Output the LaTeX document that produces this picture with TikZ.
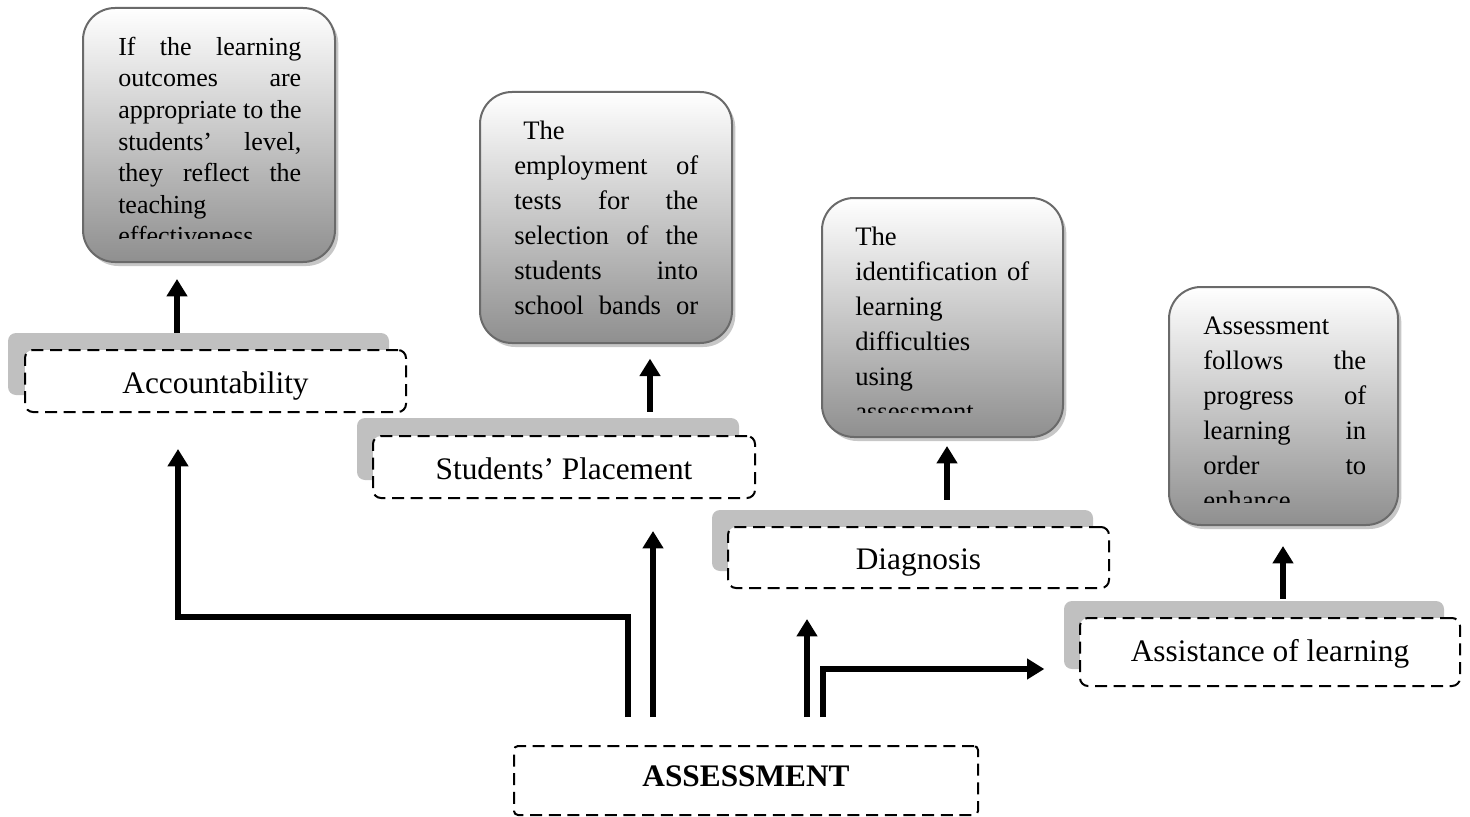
\documentclass[tikz,border=0pt]{standalone}
\usepackage{fontspec}
\setmainfont{Liberation Serif}
\usetikzlibrary{arrows.meta,shadows}

\definecolor{boxedge}{RGB}{106,106,106}
\definecolor{boxlow}{RGB}{143,143,143}
\definecolor{tabgray}{RGB}{192,192,192}
\newdimen\px \px=0.75pt

% one justified line / one flush-left line of a box text, stacked in vertical mode
\newcommand\jline[1]{\hbox to \hsize{\spaceskip=0.25em plus 10em\relax #1}}
\newcommand\lline[1]{\hbox to \hsize{#1\hfil}}

\tikzset{
  outcome/.style={draw=boxedge, line width=1.5pt, rounded corners=24pt,
    top color=white, bottom color=boxlow, inner sep=0pt,
    drop shadow={shadow xshift=2.5pt, shadow yshift=-3pt, fill=black!22, opacity=1}},
  boxtext/.style={anchor=north west, inner sep=0pt},
  label/.style={draw, dash pattern=on 9pt off 5pt, line width=1.5pt,
    rounded corners=6pt, fill=white, inner sep=0pt,
    font=\fontsize{23.5}{28}\selectfont, text height=18pt, text depth=0pt},
  tab/.style={fill=tabgray, rounded corners=6pt, inner sep=0pt},
  flow/.style={line width=4.6pt, -{Triangle[width=15pt,length=13pt]}},
}

\begin{document}
\begin{tikzpicture}[x=0.75pt,y=-0.75pt]
\useasboundingbox (0,0) rectangle (1470,817);

% ---------- outcome boxes ----------
\node[outcome, minimum width=252*\px, minimum height=254*\px] (o1) at (209,135) {};
\node[outcome, minimum width=252*\px, minimum height=251*\px] (o2) at (606,217.5) {};
\node[outcome, minimum width=241*\px, minimum height=239*\px] (o3) at (942.5,317.5) {};
\node[outcome, minimum width=229*\px, minimum height=238*\px] (o4) at (1283.5,406) {};

\begin{scope}
  \clip (100,20) rectangle (320,238);
  \node[boxtext, text width=183*\px, font=\fontsize{19.5}{23.7}\selectfont] (t1) at (118,33) {%
    \jline{\strut If the learning}
    \jline{outcomes are}
    \jline{appropriate to the}
    \jline{students’ level,}
    \jline{they reflect the}
    \lline{teaching}
    \lline{effectiveness}};
\end{scope}

\begin{scope}
  \clip (495,100) rectangle (720,330);
  \node[boxtext, text width=184*\px, font=\fontsize{20}{26.25}\selectfont] (t2) at (514,114.5) {%
    \lline{\strut\hspace*{6.75pt}The}
    \jline{employment of}
    \jline{tests for the}
    \jline{selection of the}
    \jline{students into}
    \jline{school bands or}};
\end{scope}

\begin{scope}
  \clip (835,205) rectangle (1050,412);
  \node[boxtext, text width=174*\px, font=\fontsize{20}{26.25}\selectfont] (t3) at (855,220.5) {%
    \lline{\strut The}
    \jline{identification of}
    \lline{learning}
    \lline{difficulties}
    \lline{using}
    \lline{assessment}};
\end{scope}

\begin{scope}
  \clip (1185,295) rectangle (1385,502);
  \node[boxtext, text width=163*\px, font=\fontsize{20}{26.25}\selectfont] (t4) at (1203,309.5) {%
    \lline{\strut Assessment}
    \jline{follows the}
    \jline{progress of}
    \jline{learning in}
    \jline{order to}
    \lline{enhance}};
\end{scope}

% ---------- purpose labels with their grey tabs ----------
\node[tab, minimum width=381*\px, minimum height=62*\px] (accS) at (198.5,364) {};
\node[label, minimum width=381*\px, minimum height=62*\px] (acc) at (215.5,381) {Accountability};

\node[tab, minimum width=382*\px, minimum height=62*\px] (plcS) at (548,449) {};
\node[label, minimum width=382*\px, minimum height=62*\px] (plc) at (564,467) {Students’ Placement};

\node[tab, minimum width=381*\px, minimum height=61*\px] (diaS) at (902.5,540.5) {};
\node[label, minimum width=381*\px, minimum height=61*\px] (dia) at (918.5,557.5) {Diagnosis};

\node[tab, minimum width=380*\px, minimum height=68*\px] (astS) at (1254,635) {};
\node[label, minimum width=380*\px, minimum height=68*\px, text height=13.5pt] (ast) at (1270,652) {Assistance of learning};

% ---------- central box ----------
\node[label, rounded corners=3pt, minimum width=464*\px, minimum height=69*\px,
      font=\fontsize{23.5}{28}\selectfont\bfseries, text height=17.6pt, text depth=9pt]
      (asm) at (746,780.5) {ASSESSMENT};

% ---------- connectors from ASSESSMENT ----------
\draw[flow, shorten <=21pt, shorten >=27pt]
  (asm.north -| 628,0) |- (178,617) -- (acc.south -| 178,0);
\draw[flow, shorten <=21pt, shorten >=24pt]
  (asm.north -| 653,0) -- (plc.south -| 653,0);
\draw[flow, shorten <=21pt, shorten >=22.5pt]
  (asm.north -| 807,0) -- (dia.south -| 807,0);
\draw[flow, shorten <=21pt, shorten >=26pt]
  (asm.north -| 823,0) |- (ast.west |- 0,669);

% ---------- arrows from labels to their descriptions ----------
\draw[flow, shorten >=12pt] (accS.north -| 177,0) -- (o1.south -| 177,0);
\draw[flow, shorten <=4.5pt, shorten >=11pt] (plcS.north -| 650,0) -- (o2.south -| 650,0);
\draw[flow, shorten <=7.5pt, shorten >=6pt] (diaS.north -| 947,0) -- (o3.south -| 947,0);
\draw[flow, shorten <=1.5pt, shorten >=15pt] (astS.north -| 1283,0) -- (o4.south -| 1283,0);
\end{tikzpicture}
\end{document}
